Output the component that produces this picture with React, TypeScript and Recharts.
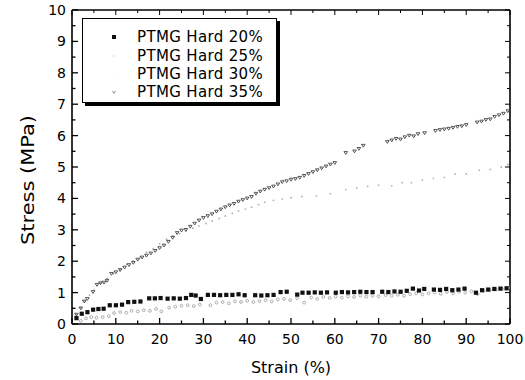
import React from 'react';
import { ScatterChart, Scatter, XAxis, YAxis, Legend } from 'recharts';

const FONT = '"DejaVu Sans", Verdana, sans-serif';

const seriesNames = ['PTMG Hard 20%', 'PTMG Hard 25%', 'PTMG Hard 30%', 'PTMG Hard 35%'];

const xTicks = [0, 5, 10, 15, 20, 25, 30, 35, 40, 45, 50, 55, 60, 65, 70, 75, 80, 85, 90, 95, 100];
const xLabels = [0, 10, 20, 30, 40, 50, 60, 70, 80, 90, 100];
const yTicks = [0, 0.5, 1, 1.5, 2, 2.5, 3, 3.5, 4, 4.5, 5, 5.5, 6, 6.5, 7, 7.5, 8, 8.5, 9, 9.5, 10];
const yLabels = [0, 1, 2, 3, 4, 5, 6, 7, 8, 9, 10];

// [strain %, stress MPa]
const hard20: [number, number][] = [
  [1, 0.19], [2.2, 0.33], [3.5, 0.38], [4.8, 0.46], [6, 0.48], [7.2, 0.49], [8.6, 0.6], [10, 0.6],
  [11.4, 0.62], [12.8, 0.7], [14.2, 0.71], [15.6, 0.72], [17.6, 0.82], [18.9, 0.82], [20.2, 0.83],
  [21.8, 0.81], [23.2, 0.82], [24.6, 0.81], [26, 0.83], [27.2, 0.93], [28.2, 0.91], [29.4, 0.8],
  [31, 0.93], [32.4, 0.93], [33.8, 0.92], [35.2, 0.93], [36.6, 0.93], [38, 0.95], [39.4, 0.92],
  [41.8, 0.92], [43.2, 0.91], [44.6, 0.92], [46, 0.93], [47.6, 1.02], [49, 1.03], [51.4, 0.94],
  [52.6, 1.0], [54, 1.0], [55.4, 1.01], [56.8, 1.0], [58.2, 1.01], [60.2, 1.0], [61.6, 1.02],
  [63, 1.01], [64.4, 1.02], [65.8, 1.03], [67.2, 1.02], [68.6, 1.02], [70.8, 1.03], [72.2, 1.02],
  [73.6, 1.04], [75, 1.03], [76.4, 1.06], [77.8, 1.13], [79.2, 1.07], [80.4, 1.12], [82.6, 1.1],
  [84, 1.09], [85.4, 1.12], [86.8, 1.08], [88.2, 1.1], [89.6, 1.13], [92.2, 1.0], [93.6, 1.08],
  [95, 1.1], [96.4, 1.12], [97.8, 1.13], [99.2, 1.14],
];

const hard25: [number, number][] = [
  [2, 0.1], [3.2, 0.18], [4.4, 0.22], [5.6, 0.2], [7, 0.22], [8.4, 0.25], [9.6, 0.35], [11, 0.38],
  [12.4, 0.36], [13.6, 0.42], [15, 0.4], [16.4, 0.44], [17.8, 0.42], [19.2, 0.48], [20.4, 0.4],
  [22.2, 0.52], [23.6, 0.55], [25, 0.58], [26.4, 0.6], [27.8, 0.57], [29.2, 0.62], [31.6, 0.6],
  [33, 0.68], [34.4, 0.7], [35.8, 0.66], [37.2, 0.72], [38.6, 0.7], [40, 0.74], [41.4, 0.7],
  [42.8, 0.73], [44.2, 0.76], [45.6, 0.72], [47, 0.78], [48.4, 0.8], [49.8, 0.76], [51.4, 0.82],
  [53, 0.68], [54.6, 0.84], [56, 0.8], [57.4, 0.86], [58.8, 0.83], [60.2, 0.87], [61.6, 0.84],
  [63, 0.88], [64.4, 0.86], [65.8, 0.9], [67.2, 0.87], [68.6, 0.9], [70, 0.88], [71.6, 0.92],
  [73, 0.9], [74.4, 0.93], [75.8, 0.9], [77.2, 0.95], [78.6, 0.98], [80, 0.94], [81.4, 0.98],
  [82.8, 1.0], [84.2, 0.96], [85.6, 1.02], [87, 0.98], [88.4, 1.03], [89.8, 1.0], [91.2, 1.04],
  [92.6, 0.95], [94, 1.06], [95.4, 1.08], [96.8, 1.1], [98.2, 1.12], [99.6, 1.15],
];

const hard30: [number, number][] = [
  [1, 0.3], [2, 0.52], [3, 0.72], [4, 0.92], [5, 1.08], [6.5, 1.3], [8, 1.45], [9.5, 1.6], [11, 1.75],
  [12.5, 1.9], [14, 2.0], [15.5, 2.12], [17, 2.28], [18.5, 2.4], [20, 2.55], [21.6, 2.7], [23, 2.8],
  [24.6, 2.88], [26, 2.96], [27.6, 3.05], [29, 3.12], [30.6, 3.2], [32, 3.28], [33.6, 3.36], [35, 3.44],
  [36.6, 3.52], [38, 3.6], [39.6, 3.66], [41, 3.72], [42.6, 3.8], [44, 3.88], [46, 3.94], [48, 3.98],
  [50, 4.02], [52.5, 4.06], [55.8, 4.08], [59, 4.15], [62.5, 4.28], [65, 4.33], [67.5, 4.38],
  [70, 4.42], [73, 4.4], [75.4, 4.5], [77.5, 4.5], [80, 4.58], [82.5, 4.64], [85, 4.67], [87.5, 4.77],
  [90, 4.78], [93, 4.9], [95.5, 4.92], [98, 5.0], [99.5, 5.08],
];

const hard35: [number, number][] = [
  [1, 0.3], [2, 0.5], [2.8, 0.72], [3.5, 0.8], [4.8, 1.02], [5.7, 1.25], [6.5, 1.3], [7.3, 1.32],
  [8, 1.38], [9, 1.6], [10, 1.65], [11, 1.72], [12, 1.8], [13, 1.88], [14, 1.95], [15, 2.05],
  [16, 2.12], [17, 2.18], [18, 2.25], [19, 2.33], [20, 2.42], [21, 2.5], [22, 2.62], [23, 2.75],
  [24, 2.9], [25, 2.98], [26, 3.0], [27, 3.1], [28, 3.2], [29, 3.3], [30, 3.38], [31, 3.44],
  [32, 3.5], [33, 3.58], [34, 3.65], [35, 3.72], [36, 3.78], [37, 3.83], [38, 3.9], [39, 3.95],
  [40, 4.0], [41, 4.05], [42, 4.15], [43, 4.22], [44, 4.28], [45, 4.33], [46, 4.38], [47, 4.45],
  [48, 4.52], [49, 4.55], [50, 4.6], [51, 4.62], [52, 4.66], [53, 4.72], [54, 4.78], [55, 4.84],
  [56, 4.9], [57, 4.96], [58, 5.02], [59, 5.08], [60, 5.13], [62.5, 5.45], [64.5, 5.5], [65.5, 5.58],
  [66.5, 5.68], [72, 5.8], [73, 5.85], [74, 5.9], [75, 5.88], [76, 5.95], [77, 6.0], [78, 5.98],
  [79, 6.05], [80.5, 6.08], [83, 6.15], [84, 6.18], [85, 6.2], [86, 6.22], [87, 6.25], [88, 6.28],
  [89, 6.3], [90, 6.34], [92.5, 6.42], [93.5, 6.45], [94.5, 6.5], [95.5, 6.52], [96.5, 6.6],
  [97.5, 6.65], [98.5, 6.7], [99.5, 6.78],
];

const toPoints = (arr: [number, number][]) => arr.map(([x, y]) => ({ x, y }));

const SquareMark = (p: any) => (
  <rect x={p.cx - 2} y={p.cy - 2} width={4.2} height={4.2} fill="#111" />
);
const OpenMark = (p: any) => (
  <circle cx={p.cx} cy={p.cy} r={1.4} fill="none" stroke="#9a9a9a" strokeWidth={0.8} />
);
const DotMark = (p: any) => <circle cx={p.cx} cy={p.cy} r={0.9} fill="#b0b0b0" />;
const VMark = (p: any) => (
  <path
    d={`M${p.cx - 1.8},${p.cy - 1.3} L${p.cx},${p.cy + 1.5} L${p.cx + 1.8},${p.cy - 1.3} Z`}
    fill="none"
    stroke="#444"
    strokeWidth={0.9}
  />
);
const NoMark = () => <g />;

const BottomTick = (props: any) => {
  const { x, y, payload } = props;
  const major = xLabels.includes(payload.value);
  return (
    <g>
      <line x1={x} x2={x} y1={y} y2={y - (major ? 6 : 3.5)} stroke="#000" strokeWidth={1.3} />
      {major && (
        <text x={x} y={y + 20} textAnchor="middle" fontSize={14} fontFamily={FONT} fill="#000">
          {payload.value}
        </text>
      )}
    </g>
  );
};
const TopTick = (props: any) => {
  const { x, y, payload } = props;
  const major = xLabels.includes(payload.value);
  return <line x1={x} x2={x} y1={y} y2={y + (major ? 5 : 3)} stroke="#000" strokeWidth={1} />;
};
const LeftTick = (props: any) => {
  const { x, y, payload } = props;
  const major = yLabels.includes(payload.value);
  return (
    <g>
      <line x1={x} x2={x + (major ? 6 : 3.5)} y1={y} y2={y} stroke="#000" strokeWidth={1.3} />
      {major && (
        <text x={x - 6} y={y + 5} textAnchor="end" fontSize={14} fontFamily={FONT} fill="#000">
          {payload.value}
        </text>
      )}
    </g>
  );
};
const RightTick = (props: any) => {
  const { x, y, payload } = props;
  const major = yLabels.includes(payload.value);
  return <line x1={x} x2={x - (major ? 5 : 3)} y1={y} y2={y} stroke="#000" strokeWidth={1} />;
};

const XTitle = (props: any) => {
  const vb = props.viewBox || { x: 72, y: 324, width: 438, height: 56 };
  return (
    <text x={vb.x + vb.width / 2} y={vb.y + 49} textAnchor="middle" fontSize={16} fontFamily={FONT} fill="#000">
      Strain (%)
    </text>
  );
};
const YTitle = (props: any) => {
  const vb = props.viewBox || { x: 0, y: 10, width: 72, height: 314 };
  const cx = vb.x + 34;
  const cy = vb.y + vb.height / 2 + 13;
  return (
    <text
      x={cx}
      y={cy}
      transform={`rotate(-90, ${cx}, ${cy})`}
      textAnchor="middle"
      fontSize={17}
      fontFamily={FONT}
      fill="#000"
      textLength={130}
      lengthAdjust="spacingAndGlyphs"
    >
      Stress (MPa)
    </text>
  );
};

const legendMarks = [
  <rect key="a" x={29} y={7} width={4} height={4} fill="#111" />,
  <circle key="b" cx={31} cy={9} r={0.8} fill="#d0d0d0" />,
  <circle key="c" cx={31} cy={9} r={0.6} fill="#eeeeee" />,
  <path key="d" d="M29.5,7.8 L31,10.5 L32.5,7.8" fill="none" stroke="#777" strokeWidth={0.8} />,
];

const LegendBox = () => (
  <div
    style={{
      boxSizing: 'border-box',
      width: 195,
      height: 85,
      border: '1px solid #000',
      boxShadow: '3px 3px 0 #000',
      background: '#fff',
      paddingTop: 9,
      fontFamily: FONT,
      fontSize: 15,
      color: '#000',
    }}
  >
    {seriesNames.map((name, i) => (
      <div key={name} style={{ display: 'flex', alignItems: 'center', height: 18.4 }}>
        <svg width={54} height={18} style={{ display: 'block' }}>
          {legendMarks[i]}
        </svg>
        <span style={{ letterSpacing: 0.35, whiteSpace: 'nowrap', lineHeight: '18px' }}>{name}</span>
      </div>
    ))}
  </div>
);

export default function App() {
  return (
    <div style={{ position: 'absolute', left: 0, top: 0, background: '#fff' }}>
      <ScatterChart width={525} height={380} margin={{ top: 9, right: 14, bottom: 0, left: 0 }}>
        <XAxis
          dataKey="x"
          type="number"
          domain={[0, 100]}
          ticks={xTicks}
          interval={0}
          height={56}
          tickSize={0}
          tickMargin={0}
          tickLine={false}
          tick={<BottomTick />}
          axisLine={{ stroke: '#000', strokeWidth: 1.6 }}
          label={{ value: 'Strain (%)', content: (p: any) => <XTitle {...p} /> }}
        />
        <XAxis
          xAxisId="top"
          dataKey="x"
          orientation="top"
          type="number"
          domain={[0, 100]}
          ticks={xTicks}
          interval={0}
          height={1}
          tickSize={0}
          tickMargin={0}
          tickLine={false}
          tick={<TopTick />}
          axisLine={{ stroke: '#000', strokeWidth: 1.3 }}
        />
        <YAxis
          dataKey="y"
          type="number"
          domain={[0, 10]}
          ticks={yTicks}
          interval={0}
          width={72}
          tickSize={0}
          tickMargin={0}
          tickLine={false}
          tick={<LeftTick />}
          axisLine={{ stroke: '#000', strokeWidth: 1.6 }}
          label={{ value: 'Stress (MPa)', content: (p: any) => <YTitle {...p} /> }}
        />
        <YAxis
          yAxisId="right"
          dataKey="y"
          orientation="right"
          type="number"
          domain={[0, 10]}
          ticks={yTicks}
          interval={0}
          width={1}
          tickSize={0}
          tickMargin={0}
          tickLine={false}
          tick={<RightTick />}
          axisLine={{ stroke: '#000', strokeWidth: 1.6 }}
        />
        <Scatter name={seriesNames[2]} data={toPoints(hard30)} shape={DotMark} isAnimationActive={false} />
        <Scatter name={seriesNames[1]} data={toPoints(hard25)} shape={OpenMark} isAnimationActive={false} />
        <Scatter name={seriesNames[3]} data={toPoints(hard35)} shape={VMark} isAnimationActive={false} />
        <Scatter name={seriesNames[0]} data={toPoints(hard20)} shape={SquareMark} isAnimationActive={false} />
        <Scatter
          name="frame"
          xAxisId="top"
          yAxisId="right"
          data={toPoints(hard20)}
          shape={NoMark}
          legendType="none"
          isAnimationActive={false}
        />
        <Legend
          layout="vertical"
          align="center"
          verticalAlign="middle"
          wrapperStyle={{ left: 82, top: 18, width: 195, height: 85 }}
          content={() => <LegendBox />}
        />
      </ScatterChart>
    </div>
  );
}
